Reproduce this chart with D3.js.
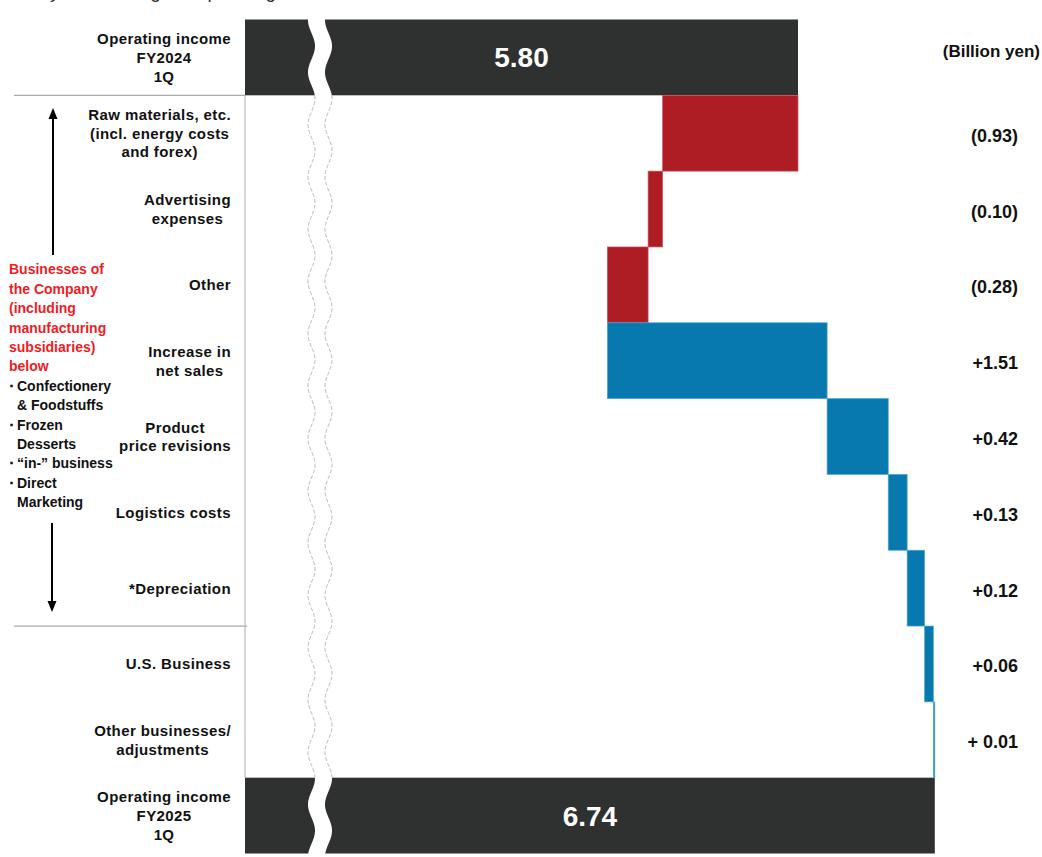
<!DOCTYPE html>
<html><head><meta charset="utf-8">
<script src="https://cdn.jsdelivr.net/npm/d3@7"></script>
<style>
body{margin:0;background:#fff}
svg{display:block}
text{font-family:"Liberation Sans",Arial,sans-serif}
</style>
</head><body><svg id="chart" width="1042" height="857"></svg>
<script>
// ---- data ----
const pageTitle = "Analysis of change in operating income";
const categories = [
  "Operating income\nFY2024\n1Q",
  "Raw materials, etc.\n(incl. energy costs\nand forex)",
  "Advertising\nexpenses",
  "Other",
  "Increase in\nnet sales",
  "Product\nprice revisions",
  "Logistics costs",
  "*Depreciation",
  "U.S. Business",
  "Other businesses/\nadjustments",
  "Operating income\nFY2025\n1Q"
];
const startValue = 5.80;
const endValue = 6.74;
const totalLabels = ["5.80", "6.74"];
const changes = [-0.93, -0.10, -0.28, 1.51, 0.42, 0.13, 0.12, 0.06, 0.01];
const changeLabels = ["(0.93)", "(0.10)", "(0.28)", "+1.51", "+0.42", "+0.13", "+0.12", "+0.06", "+ 0.01"];
const unitLabel = "(Billion yen)";
const noteRed = ["Businesses of", "the Company", "(including", "manufacturing", "subsidiaries)", "below"];
const noteBlack = [
  {bullet: true, text: "Confectionery"},
  {bullet: false, text: "& Foodstuffs"},
  {bullet: true, text: "Frozen"},
  {bullet: false, text: "Desserts"},
  {bullet: true, text: "“in-” business"},
  {bullet: true, text: "Direct"},
  {bullet: false, text: "Marketing"}
];

// ---- styles ----
const C_DARK = "#2f3030", C_RED = "#ae1d24", C_BLUE = "#0779ae";
const plotLeft = 245;

const svg = d3.select("#chart");
svg.append("rect").attr("width", 1042).attr("height", 857).attr("fill", "#fff");

const y = d3.scaleBand().domain(d3.range(categories.length)).range([19.5, 853.5]).padding(0);
const x = d3.scaleLinear().domain([startValue, endValue]).range([798, 934.8]);

// partial title at the top (cut off, as in the source slide)
svg.append("text").attr("x", 12).attr("y", -2).attr("font-family", "'Noto Sans',sans-serif")
  .attr("font-size", 19).attr("fill", "#333").text(pageTitle);

// separators
const g = svg.append("g");
g.append("line").attr("x1", 14).attr("x2", plotLeft).attr("y1", y(1)).attr("y2", y(1))
  .attr("stroke", "#aaa").attr("stroke-width", 1.2);
g.append("line").attr("x1", 14).attr("x2", plotLeft + 2).attr("y1", y(8)).attr("y2", y(8))
  .attr("stroke", "#aaa").attr("stroke-width", 1.2);
g.append("line").attr("x1", plotLeft).attr("x2", plotLeft).attr("y1", y(1)).attr("y2", y(10))
  .attr("stroke", "#bbb").attr("stroke-width", 1.2);

// total bars
const totals = [{row: 0, v: startValue, label: totalLabels[0]}, {row: categories.length - 1, v: endValue, label: totalLabels[1]}];
g.selectAll(".total").data(totals).join("rect").attr("class", "total")
  .attr("x", plotLeft).attr("y", d => y(d.row)).attr("width", d => x(d.v) - plotLeft)
  .attr("height", y.bandwidth()).attr("fill", C_DARK);

// change bars
let cum = startValue;
const steps = changes.map((c, i) => { const s = cum; cum += c; return {row: i + 1, from: s, to: cum, c, label: changeLabels[i]}; });
g.selectAll(".step").data(steps).join("rect").attr("class", "step")
  .attr("x", d => x(Math.min(d.from, d.to))).attr("y", d => y(d.row))
  .attr("width", d => Math.abs(x(d.to) - x(d.from))).attr("height", y.bandwidth())
  .attr("fill", d => d.c < 0 ? C_RED : C_BLUE)
  .attr("stroke", d => d.c < 0 ? "#c9585e" : "#4fa6d4").attr("stroke-width", 0.7);

// axis break (wavy gap)
const wave = yy => 311.5 - 3.5 * Math.cos(2 * Math.PI * (yy - 20) / 52.3);
const gapW = 17;
const ys = d3.range(18, 856, 1);
const gapPts = ys.map(v => [wave(v), v]).concat(ys.slice().reverse().map(v => [wave(v) + gapW, v]));
svg.append("path").attr("d", d3.line()(gapPts) + "Z").attr("fill", "#fff");
const ysWhite = d3.range(y(1), y(10) + 0.5, 1);
[0, gapW].forEach(off => {
  svg.append("path").attr("d", d3.line()(ysWhite.map(v => [wave(v) + off, v])))
    .attr("fill", "none").attr("stroke", "#b3b3b3").attr("stroke-width", 1).attr("stroke-dasharray", "4,2");
});

// total value labels
svg.selectAll(".tl").data(totals).join("text").attr("class", "tl")
  .attr("x", d => (plotLeft + x(d.v)) / 2).attr("y", d => y(d.row) + y.bandwidth() / 2 + 10)
  .attr("text-anchor", "middle").attr("font-size", 28).attr("font-weight", "bold")
  .attr("fill", "#fff").text(d => d.label);

// category labels: centred block, right edge at 231
const lh = 18.7;
categories.forEach((cat, i) => {
  const lines = cat.split("\n");
  const cy = y(i) + y.bandwidth() / 2;
  const tg = svg.append("g");
  const texts = lines.map((ln, j) => tg.append("text")
    .attr("y", cy + 5.5 + (j - (lines.length - 1) / 2) * lh)
    .attr("font-size", 15).attr("font-weight", "bold").attr("letter-spacing", 0.4)
    .attr("fill", "#111").attr("text-anchor", "middle").text(ln));
  const w = d3.max(texts, t => t.node().getComputedTextLength());
  texts.forEach(t => t.attr("x", 231 - w / 2));
});

// change value labels
svg.selectAll(".vl").data(steps).join("text").attr("class", "vl")
  .attr("x", 1018).attr("y", d => y(d.row) + y.bandwidth() / 2 + 8.5)
  .attr("text-anchor", "end").attr("font-size", 18).attr("font-weight", "bold")
  .attr("fill", "#111").text(d => d.label);
svg.append("text").attr("x", 1040).attr("y", 57).attr("text-anchor", "end")
  .attr("font-size", 17).attr("font-weight", "bold").attr("fill", "#111").text(unitLabel);

// left note
const noteStep = 19.4, note0 = 274.3;
noteRed.forEach((t, i) => svg.append("text").attr("x", 9).attr("y", note0 + i * noteStep)
  .attr("font-size", 14).attr("font-weight", "bold").attr("fill", "#ee1c25").text(t));
noteBlack.forEach((d, i) => {
  const t = svg.append("text").attr("y", note0 + (noteRed.length + i) * noteStep)
    .attr("font-size", 14).attr("font-weight", "bold").attr("fill", "#111");
  if (d.bullet) {
    t.append("tspan").attr("x", 8).text("･");
    t.append("tspan").attr("x", 17).text(d.text);
  } else {
    t.append("tspan").attr("x", 17).text(d.text);
  }
});

// arrows
const arrow = (x0, yTail, yTip) => {
  const dir = yTip < yTail ? -1 : 1;
  svg.append("line").attr("x1", x0).attr("x2", x0).attr("y1", yTail).attr("y2", yTip - dir * 8)
    .attr("stroke", "#000").attr("stroke-width", 2);
  svg.append("path").attr("d", `M${x0},${yTip} L${x0 - 4.5},${yTip - dir * 11} L${x0 + 4.5},${yTip - dir * 11} Z`)
    .attr("fill", "#000");
};
arrow(53, 255, 108);
arrow(52, 523, 612);
</script>
</body></html>
